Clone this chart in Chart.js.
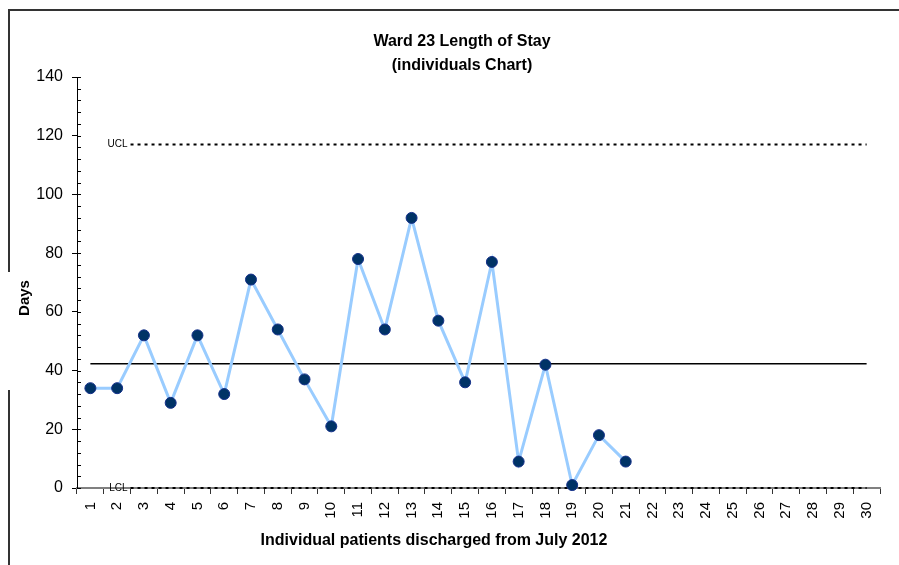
<!DOCTYPE html>
<html>
<head>
<meta charset="utf-8">
<title>Ward 23 Length of Stay</title>
<script src="https://cdn.jsdelivr.net/npm/chart.js@4.4.1/dist/chart.umd.min.js"></script>
<style>
  html, body { margin: 0; padding: 0; background: #fff; }
  #wrap { width: 899px; height: 565px; }
</style>
</head>
<body>
<div id="wrap"><canvas id="losChart" width="899" height="565"></canvas></div>
<script>
// patient number (x axis categories)
const patients = ['1', '2', '3', '4', '5', '6', '7', '8', '9', '10',
  '11', '12', '13', '14', '15', '16', '17', '18', '19', '20',
  '21', '22', '23', '24', '25', '26', '27', '28', '29', '30'];

// length of stay in days, one per discharged patient
const lengthOfStay = [34, 34, 52, 29, 52, 32, 71, 54, 37, 21, 78, 54, 92, 57, 36, 77, 9, 42, 1, 18, 9];

// control limits
const centreLine = 42.3;
const ucl = 117;
const lcl = 0;

const FONT = "'Liberation Sans', Arial, sans-serif";

// frame, titles, minor ticks and the UCL / LCL tags
const decorations = {
  id: 'decorations',
  afterDraw(chart) {
    const ctx = chart.ctx;
    const y = chart.scales.y;
    ctx.save();

    // outer frame (top + left, with gap behind the axis title)
    ctx.strokeStyle = '#333';
    ctx.lineWidth = 2;
    ctx.beginPath();
    ctx.moveTo(899, 10);
    ctx.lineTo(9, 10);
    ctx.lineTo(9, 272);
    ctx.moveTo(9, 390);
    ctx.lineTo(9, 565);
    ctx.stroke();

    // minor ticks inside the y axis
    ctx.strokeStyle = '#000';
    ctx.lineWidth = 1;
    ctx.beginPath();
    for (let v = 0; v <= 140; v += 4) {
      const py = Math.round(y.getPixelForValue(v)) + 0.5;
      ctx.moveTo(y.right, py);
      ctx.lineTo(y.right + 4, py);
    }
    ctx.stroke();

    // titles
    ctx.fillStyle = '#000';
    ctx.textAlign = 'center';
    ctx.textBaseline = 'middle';
    ctx.font = 'bold 16px ' + FONT;
    ctx.fillText('Ward 23 Length of Stay', 462, 42);
    ctx.fillText('(individuals Chart)', 462, 66);
    ctx.fillText('Individual patients discharged from July 2012', 434, 541);

    ctx.save();
    ctx.translate(25, 298);
    ctx.rotate(-Math.PI / 2);
    ctx.font = 'bold 15px ' + FONT;
    ctx.fillText('Days', 0, 0);
    ctx.restore();

    // limit tags
    const x2 = chart.scales.x2;
    const tagX = x2.getPixelForValue(2.5) - 3;
    ctx.font = '10px ' + FONT;
    ctx.textAlign = 'right';
    const uy = y.getPixelForValue(ucl);
    const ly = y.getPixelForValue(lcl);
    ctx.fillText('UCL', tagX, uy);
    const w = ctx.measureText('LCL').width;
    ctx.fillStyle = '#fff';
    ctx.fillRect(tagX - w - 1, ly - 6, w + 3, 5);
    ctx.fillStyle = '#000';
    ctx.fillText('LCL', tagX, ly);

    ctx.restore();
  }
};

new Chart(document.getElementById('losChart'), {
  type: 'line',
  data: {
    labels: patients,
    datasets: [
      {
        label: 'Length of stay',
        data: lengthOfStay,
        borderColor: '#99ccff',
        borderWidth: 3,
        backgroundColor: '#003366',
        pointBackgroundColor: '#003366',
        pointBorderColor: '#14308a',
        pointBorderWidth: 1,
        pointRadius: 5.5,
        tension: 0,
        clip: false
      },
      {
        label: 'Centre',
        xAxisID: 'x2',
        data: [{ x: 1, y: centreLine }, { x: 30, y: centreLine }],
        borderColor: '#000',
        borderWidth: 1.5,
        pointRadius: 0
      },
      {
        label: 'UCL',
        xAxisID: 'x2',
        data: [{ x: 2.5, y: ucl }, { x: 30, y: ucl }],
        borderColor: '#000',
        borderWidth: 2,
        borderDash: [3, 4],
        borderCapStyle: 'butt',
        pointRadius: 0,
        clip: false
      },
      {
        label: 'LCL',
        xAxisID: 'x2',
        data: [{ x: 2.5, y: lcl }, { x: 30, y: lcl }],
        borderColor: '#000',
        borderWidth: 2,
        borderDash: [3, 4],
        borderCapStyle: 'butt',
        pointRadius: 0,
        clip: false
      }
    ]
  },
  options: {
    responsive: false,
    animation: false,
    events: [],
    layout: { padding: { top: 77, right: 19, bottom: 37, left: 0 } },
    plugins: {
      legend: { display: false },
      tooltip: { enabled: false },
      title: { display: false }
    },
    scales: {
      x: {
        type: 'category',
        offset: true,
        grid: { offset: true, drawOnChartArea: false, tickLength: 6, color: '#333', lineWidth: 1 },
        border: { color: '#808080', width: 2 },
        ticks: {
          autoSkip: false,
          minRotation: 90,
          maxRotation: 90,
          padding: 8,
          color: '#000',
          font: { family: FONT, size: 15 }
        },
        afterFit(scale) { scale.height = 40; }
      },
      x2: {
        type: 'linear',
        display: false,
        min: 0.5,
        max: 30.5
      },
      y: {
        min: 0,
        max: 140,
        grid: { drawOnChartArea: false, tickLength: 5, color: '#000' },
        border: { color: '#000', width: 1 },
        ticks: {
          stepSize: 20,
          padding: 9,
          color: '#000',
          font: { family: FONT, size: 16 }
        },
        afterFit(scale) { scale.width = 77; }
      }
    }
  },
  plugins: [decorations]
});
</script>
</body>
</html>
